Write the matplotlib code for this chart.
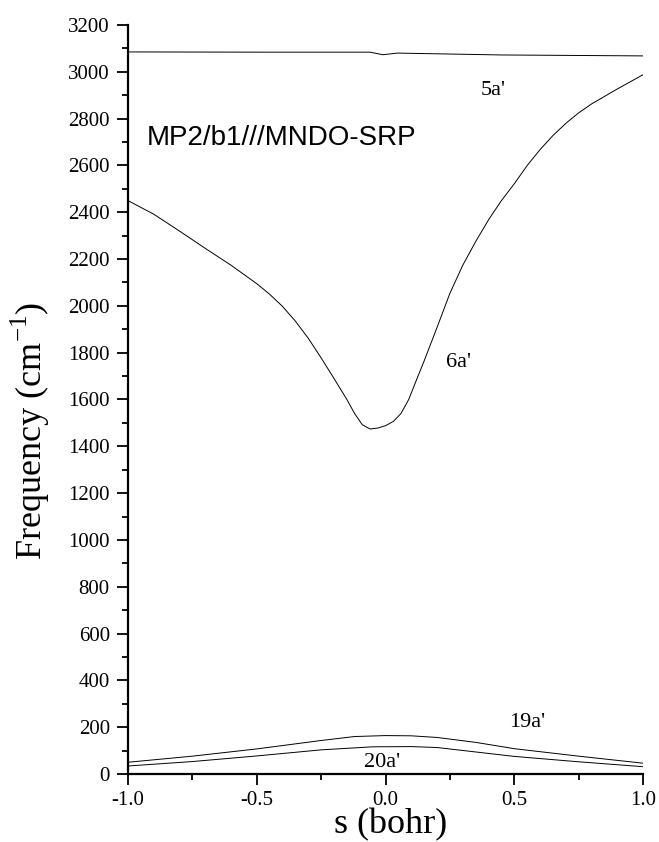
import matplotlib
matplotlib.use("Agg")
import matplotlib.pyplot as plt
from matplotlib.ticker import MultipleLocator

plt.rcParams['font.family'] = ['Liberation Serif', 'DejaVu Serif']
plt.rcParams['mathtext.fontset'] = 'custom'
plt.rcParams['mathtext.rm'] = 'Liberation Serif'

# mode 5a'
x5 = [-1.0, -0.5, -0.06, -0.01, 0.045, 0.25, 0.45, 1.0]
y5 = [3085, 3084, 3084, 3073, 3080, 3076, 3072, 3068]

# mode 6a'
x6 = [-1.0, -0.9, -0.8, -0.7, -0.6, -0.5, -0.45, -0.4, -0.35, -0.3, -0.25, -0.2,
      -0.15, -0.12, -0.09, -0.06, -0.03, 0.0, 0.03, 0.06, 0.09, 0.12, 0.15, 0.2,
      0.25, 0.3, 0.35, 0.4, 0.45, 0.5, 0.55, 0.6, 0.65, 0.7, 0.75, 0.8, 0.9, 1.0]
y6 = [2450, 2392, 2320, 2246, 2174, 2095, 2050, 1998, 1935, 1862, 1778, 1690,
      1600, 1540, 1492, 1474, 1478, 1488, 1506, 1540, 1600, 1683, 1765, 1908,
      2054, 2174, 2275, 2368, 2450, 2522, 2600, 2668, 2728, 2780, 2825, 2863,
      2927, 2988]

# mode 19a'
x19 = [-1.0, -0.75, -0.5, -0.25, -0.12, 0.0, 0.1, 0.2, 0.35, 0.5, 0.75, 1.0]
y19 = [50, 76, 107, 143, 160, 164, 163, 156, 135, 108, 76, 46]

# mode 20a'
x20 = [-1.0, -0.75, -0.5, -0.25, -0.05, 0.1, 0.2, 0.5, 0.75, 1.0]
y20 = [34, 53, 77, 103, 116, 117, 113, 75, 52, 31]

fig = plt.figure(figsize=(6.59, 8.42), dpi=100)
ax = fig.add_axes([0.194, 0.0808, 0.782, 0.8895])

for xs, ys in [(x5, y5), (x6, y6), (x19, y19), (x20, y20)]:
    ax.plot(xs, ys, color='black', lw=0.7)

ax.set_xlim(-1.0, 1.0)
ax.set_ylim(0, 3200)
ax.xaxis.set_major_locator(MultipleLocator(0.5))
ax.xaxis.set_minor_locator(MultipleLocator(0.25))
ax.yaxis.set_major_locator(MultipleLocator(200))
ax.yaxis.set_minor_locator(MultipleLocator(100))
ax.xaxis.set_major_formatter(matplotlib.ticker.FormatStrFormatter('%.1f'))

for s in ['top', 'right']:
    ax.spines[s].set_visible(False)
for s in ['left', 'bottom']:
    ax.spines[s].set_linewidth(1.6)

ax.tick_params(which='major', direction='out', length=8, width=1.3,
               labelsize=15, pad=4)
ax.tick_params(which='minor', direction='out', length=4, width=1.3)
ax.tick_params(axis='y', which='major', pad=5)

ax.set_ylabel('Frequency (cm$^{-1}$)', fontsize=26, va='center')
ax.yaxis.set_label_coords(-0.19, 0.458)
ax.set_xlabel('s (bohr)', fontsize=26, va='center')
ax.xaxis.set_label_coords(0.51, -0.068)

ax.text(0.418, 2922, "5a'", fontsize=16, ha='center', va='center')
ax.text(0.282, 1760, "6a'", fontsize=16, ha='center', va='center')
ax.text(0.55, 222, "19a'", fontsize=16, ha='center', va='center')
ax.text(-0.013, 47, "20a'", fontsize=16, ha='center', va='center')
ax.text(-0.926, 2717, "MP2/b1///MNDO-SRP", fontsize=20, ha='left', va='center',
        family=['Liberation Sans', 'DejaVu Sans'])

fig.savefig('out.png', dpi=100)
